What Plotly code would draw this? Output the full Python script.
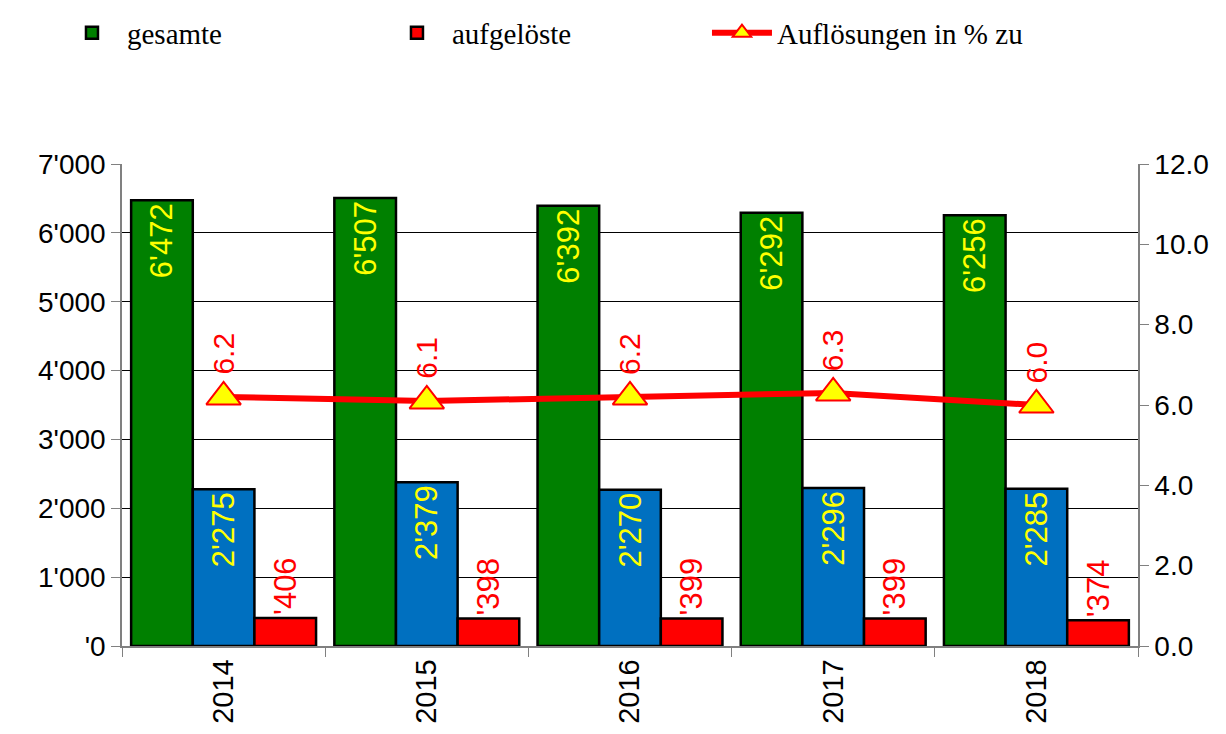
import plotly.graph_objects as go

years = ["2014", "2015", "2016", "2017", "2018"]
gesamte = [6472, 6507, 6392, 6292, 6256]
blau = [2275, 2379, 2270, 2296, 2285]
aufgeloeste = [406, 398, 399, 399, 374]
prozent = [6.2, 6.1, 6.2, 6.3, 6.0]

y_tickvals = [0, 1000, 2000, 3000, 4000, 5000, 6000, 7000]
y_ticktext = ["'0", "1'000", "2'000", "3'000", "4'000", "5'000", "6'000", "7'000"]


def fmt(v):
    th, rest = divmod(int(v), 1000)
    return f"{th}'{rest:03d}" if th else f"'{rest}"


FONT = "Liberation Sans, Arial, sans-serif"

fig = go.Figure()
fig.add_trace(go.Bar(
    x=years, y=gesamte, name="gesamte",
    marker=dict(color="#008000", line=dict(color="black", width=2.5)),
    text=[fmt(v) for v in gesamte], textposition="inside", insidetextanchor="end",
    textangle=-90, textfont=dict(color="#FFFF00", size=31, family=FONT),
))
fig.add_trace(go.Bar(
    x=years, y=blau, name="", showlegend=False,
    marker=dict(color="#0070C0", line=dict(color="black", width=2.5)),
    text=[fmt(v) for v in blau], textposition="inside", insidetextanchor="end",
    textangle=-90, textfont=dict(color="#FFFF00", size=31, family=FONT),
))
fig.add_trace(go.Bar(
    x=years, y=aufgeloeste, name="aufgelöste",
    marker=dict(color="#FF0000", line=dict(color="black", width=2.5)),
    text=[fmt(v) for v in aufgeloeste], textposition="outside",
    textangle=-90, textfont=dict(color="#FF0000", size=31, family=FONT),
    cliponaxis=False,
))
fig.add_trace(go.Scatter(
    x=years, y=prozent, name="Auflösungen in % zu", yaxis="y2",
    mode="lines+markers",
    line=dict(color="#FF0000", width=6),
    marker=dict(symbol="triangle-up", size=30, color="#FFFF00",
                line=dict(color="#FF0000", width=2)),
))

for i, p in enumerate(prozent):
    fig.add_annotation(
        x=i, y=p, xref="x", yref="y2", text=f"{p:.1f}", showarrow=False,
        textangle=-90, yanchor="bottom", yshift=20,
        font=dict(color="#FF0000", size=30, family=FONT),
    )

fig.update_layout(
    width=1210, height=718,
    margin=dict(l=114, r=80, t=156, b=80, autoexpand=False),
    paper_bgcolor="white", plot_bgcolor="white",
    barmode="group", bargap=0.09, bargroupgap=0,
    showlegend=True,
    legend=dict(
        orientation="h", x=-0.064, xanchor="left", y=1.325, yanchor="top",
        font=dict(family="Liberation Serif, Times New Roman, serif", size=29, color="black"),
        entrywidth=250, entrywidthmode="pixels", traceorder="normal",
        itemwidth=60, bgcolor="rgba(0,0,0,0)",
    ),
    xaxis=dict(
        type="category", tickangle=-90, tickson="boundaries", ticks="outside",
        ticklen=9, tickcolor="#808080", showline=True, linecolor="#808080", linewidth=1.5,
        tickfont=dict(family=FONT, size=29, color="black"), showgrid=False,
        range=[-0.5, len(years) - 0.5], automargin=False,
    ),
    yaxis=dict(
        range=[0, 7000], tickvals=y_tickvals, ticktext=y_ticktext,
        ticks="outside", ticklen=9, tickcolor="#808080",
        showline=True, linecolor="#808080", linewidth=1.5,
        showgrid=True, gridcolor="black", gridwidth=1, zeroline=False,
        tickfont=dict(family=FONT, size=28, color="black"), automargin=False,
    ),
    yaxis2=dict(
        range=[0, 12], dtick=2, tick0=0, tickformat=".1f", overlaying="y", side="right",
        ticks="outside", ticklen=9, tickcolor="#808080",
        showline=True, linecolor="#808080", linewidth=1.5,
        showgrid=False, zeroline=False,
        tickfont=dict(family=FONT, size=28, color="black"), automargin=False,
    ),
)

fig.write_html("out.html")
